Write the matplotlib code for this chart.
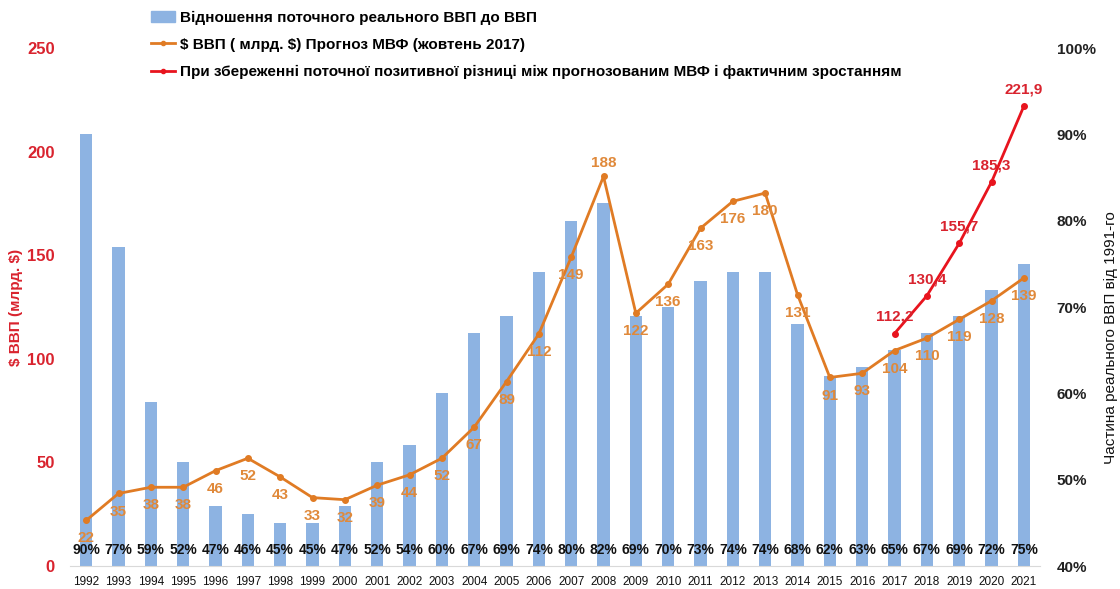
import matplotlib.pyplot as plt
from matplotlib.patches import Patch
from matplotlib.lines import Line2D

plt.rcParams["font.family"] = ["Liberation Sans", "DejaVu Sans"]

years = list(range(1992, 2022))
share_pct = [90, 77, 59, 52, 47, 46, 45, 45, 47, 52, 54, 60, 67, 69, 74,
             80, 82, 69, 70, 73, 74, 74, 68, 62, 63, 65, 67, 69, 72, 75]
gdp_imf = [22, 35, 38, 38, 46, 52, 43, 33, 32, 39, 44, 52, 67, 89, 112,
           149, 188, 122, 136, 163, 176, 180, 131, 91, 93, 104, 110, 119, 128, 139]
gap_years = [2017, 2018, 2019, 2020, 2021]
gdp_gap = [112.2, 130.4, 155.7, 185.3, 221.9]

BAR_COLOR = "#8DB3E2"
ORANGE = "#E07B24"
ORANGE_TXT = "#E0893A"
RED = "#E8141E"
RED_TXT = "#D9232E"

x = list(range(len(years)))
gx = [years.index(y) for y in gap_years]

fig = plt.figure(figsize=(11.2, 5.89), dpi=100)
ax_bar = fig.add_axes([70 / 1120, 23 / 589, 970 / 1120, 518 / 589])
ax_line = ax_bar.twinx()

# bars: share of real GDP vs 1991 (right axis)
ax_bar.bar(x, [v - 40 for v in share_pct], bottom=40, width=0.38, color=BAR_COLOR)
ax_bar.set_ylim(40, 100)
ax_bar.set_xlim(-0.5, len(years) - 0.5)
ax_bar.yaxis.tick_right()
ax_bar.yaxis.set_label_position("right")
ax_bar.set_yticks(range(40, 101, 10))
ax_bar.set_yticklabels([f"{t}%" for t in range(40, 101, 10)],
                       fontsize=11, fontweight="bold", color="#222222")
ax_bar.set_ylabel("Частина реального ВВП від 1991-го", fontsize=11,
                  color="#111111")
ax_bar.yaxis.set_label_coords(1.066, 0.44)
ax_bar.set_xticks(x)
ax_bar.set_xticklabels(years, fontsize=8.5, color="#111111")
ax_bar.tick_params(length=0, pad=7)
ax_bar.tick_params(axis="y", pad=12)
for i, v in zip(x, share_pct):
    ax_bar.text(i, 41.8, f"{v}%", ha="center", va="center", fontsize=10,
                fontweight="bold", color="#111111")

# lines: GDP (left axis)
ax_line.plot(x, gdp_imf, color=ORANGE, lw=2, marker="o", ms=4)
ax_line.plot(gx, gdp_gap, color=RED, lw=2, marker="o", ms=4)
ax_line.set_ylim(0, 250)
ax_line.yaxis.tick_left()
ax_line.yaxis.set_label_position("left")
ax_line.set_yticks(range(0, 251, 50))
ax_line.set_yticklabels(range(0, 251, 50), fontsize=12, fontweight="bold",
                        color=RED_TXT)
ax_line.set_ylabel(r"\$ ВВП (млрд. \$)", fontsize=11, fontweight="bold",
                   color=RED_TXT)
ax_line.yaxis.set_label_coords(-0.048, 0.5)
ax_line.tick_params(length=0, pad=11)

for i, v in zip(x, gdp_imf):
    off = 10 if v == max(gdp_imf) else -13
    ax_line.annotate(str(v), (i, v), xytext=(0, off), textcoords="offset points",
                     ha="center", va="center", fontsize=11, fontweight="bold",
                     color=ORANGE_TXT)
for i, v in zip(gx, gdp_gap):
    ax_line.annotate(f"{v:.1f}".replace(".", ","), (i, v), xytext=(0, 12),
                     textcoords="offset points", ha="center", va="center",
                     fontsize=11, fontweight="bold", color=RED_TXT)

for a in (ax_bar, ax_line):
    for s in a.spines.values():
        s.set_visible(False)
ax_bar.spines["bottom"].set_visible(True)
ax_bar.spines["bottom"].set_color("#D9D9D9")

handles = [
    Patch(color=BAR_COLOR),
    Line2D([], [], color=ORANGE, lw=2, marker="o", ms=3),
    Line2D([], [], color=RED, lw=2, marker="o", ms=3),
]
labels = [
    "Відношення поточного реального ВВП до ВВП",
    r"\$ ВВП ( млрд. \$) Прогноз МВФ (жовтень 2017)",
    "При збереженні поточної позитивної різниці між прогнозованим МВФ і фактичним зростанням",
]
fig.legend(handles, labels, loc="upper left", bbox_to_anchor=(0.125, 1.0),
           frameon=False, prop={"size": 11, "weight": "bold"},
           handlelength=1.6, handletextpad=0.3, labelspacing=0.85, borderpad=0.2)

fig.savefig("out.png", dpi=100)
